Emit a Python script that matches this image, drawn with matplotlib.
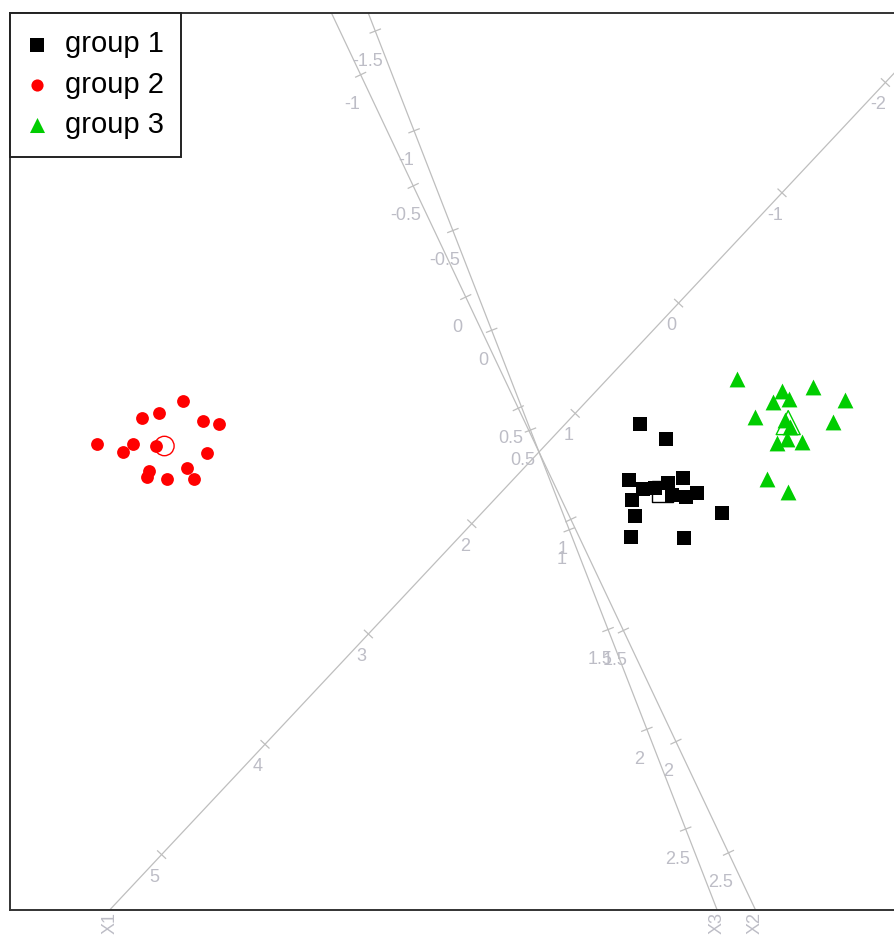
import numpy as np
import matplotlib.pyplot as plt

# biplot coordinates of the samples
g1_x = [1.01, 1.27, 0.90, 1.04, 0.93, 1.29, 1.44, 1.33, 1.47, 1.58, 0.96, 1.83, 0.92, 1.45, 1.16]
g1_y = [0.28, 0.13, -0.28, -0.37, -0.48, -0.31, -0.26, -0.43, -0.45, -0.41, -0.64, -0.61, -0.85, -0.86, -0.36]
g2_x = [-4.42, -4.16, -4.06, -3.97, -3.80, -3.56, -3.36, -3.20, -3.83, -3.32, -3.90, -3.92, -3.72, -3.52, -3.45]
g2_y = [0.08, 0.00, 0.08, 0.34, 0.39, 0.51, 0.31, 0.28, 0.06, -0.01, -0.19, -0.25, -0.27, -0.16, -0.27]
g3_x = [1.98, 2.43, 2.74, 3.06, 2.34, 2.50, 2.16, 2.94, 2.51, 2.38, 2.48, 2.63, 2.28, 2.49, 2.46]
g3_y = [0.73, 0.61, 0.65, 0.52, 0.50, 0.53, 0.35, 0.30, 0.25, 0.09, 0.13, 0.10, -0.27, -0.40, 0.32]

groups = ["group 1", "group 2", "group 3"]
colors = ["black", "#FF0000", "#00CD00"]
markers = ["s", "o", "^"]

# calibrated variable axes: direction per unit, value at origin, tick values
var_names = ["X1", "X2", "X3"]
var_dir = [(-1.034, -1.103), (1.051, -2.223), (0.776, -1.995)]
var_mean = [1.35, 0.697, 0.61]
var_ticks = [
    [-2, -1, 0, 1, 2, 3, 4, 5],
    [-1, -0.5, 0, 0.5, 1, 1.5, 2, 2.5],
    [-1.5, -1, -0.5, 0, 0.5, 1, 1.5, 2, 2.5],
]
label_off = [(-0.07, -0.225), (-0.08, -0.30), (-0.08, -0.30)]

xlim = (-5.29, 3.56)
ylim = (-4.58, 4.39)

fig = plt.figure(figsize=(8.95, 9.36), dpi=100)
ax = fig.add_axes([10 / 895, 26 / 936, 885 / 895, 897 / 936])
ax.set_xlim(xlim)
ax.set_ylim(ylim)
ax.set_xticks([])
ax.set_yticks([])
ax.spines["right"].set_visible(False)
for s in ["left", "top", "bottom"]:
    ax.spines[s].set_color("#333333")
    ax.spines[s].set_linewidth(1.4)

line_col = "#BEBEBE"
lab_col = "#BDBDC6"
fnt = "Liberation Sans"

for name, d, m, ticks, off in zip(var_names, var_dir, var_mean, var_ticks, label_off):
    d = np.array(d)
    ax.axline((0, 0), (d[0], d[1]), color=line_col, lw=0.9, zorder=1)
    u = d / np.hypot(*d)
    perp = np.array([-u[1], u[0]]) * 0.055
    for v in ticks:
        p = (v - m) * d
        ax.plot([p[0] - perp[0], p[0] + perp[0]], [p[1] - perp[1], p[1] + perp[1]],
                color=line_col, lw=0.9, zorder=1)
        ax.text(p[0] + off[0], p[1] + off[1], f"{v:g}", color=lab_col, fontsize=13,
                family=fnt, ha="center", va="center", zorder=1)
    # axis name below frame
    t = ylim[0] / d[1]
    ax.text(t * d[0], ylim[0] - 0.02, name, color=lab_col, fontsize=13, family=fnt,
            rotation=90, ha="center", va="top", clip_on=False)

data = [(g1_x, g1_y), (g2_x, g2_y), (g3_x, g3_y)]
sizes = [100, 85, 130]
for (xs, ys), g, c, mk, sz in zip(data, groups, colors, markers, sizes):
    ax.scatter(xs, ys, s=sz, marker=mk, color=c, linewidths=0, zorder=3, label=g)
    ax.scatter(np.mean(xs), np.mean(ys), s=sz * 2.3, marker=mk, facecolors="none",
               edgecolors=c, linewidths=1.0, zorder=4)

leg = ax.legend(loc="upper left", bbox_to_anchor=(0, 1), borderaxespad=0,
                prop={"family": fnt, "size": 21}, fancybox=False, framealpha=1,
                edgecolor="#222222", handlelength=0.65, handletextpad=0.63,
                borderpad=0.6, labelspacing=0.42, markerscale=0.95)
leg.get_frame().set_linewidth(1.4)
leg.set_zorder(10)

fig.savefig("out.png", dpi=100)
